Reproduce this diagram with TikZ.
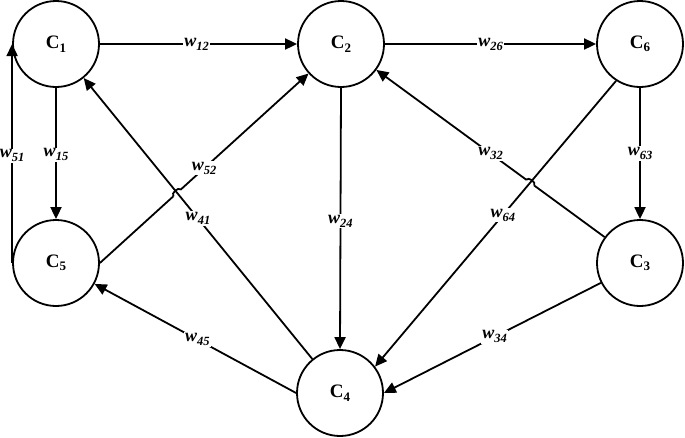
\documentclass[tikz,border=0pt]{standalone}
\usepackage{fontspec}
\setmainfont{Liberation Serif}
\usetikzlibrary{arrows.meta,intersections,calc}
\newcommand{\wlab}[1]{{\fontsize{18}{20}\selectfont\bfseries\itshape w\raisebox{-4pt}{\fontsize{12.5}{14}\selectfont #1}}}
\newcommand{\clab}[1]{{\fontsize{19}{20}\selectfont\bfseries C\raisebox{-3.5pt}{\fontsize{13}{14}\selectfont #1}}}
\begin{document}
\begin{tikzpicture}[x=1pt,y=1pt,
  cnode/.style={circle,draw,line width=1.8pt,minimum size=86pt,inner sep=0pt},
  conn/.style={line width=1.8pt,-{Triangle[length=12pt,width=11pt]}},
  plain/.style={line width=1.8pt},
  lbl/.style={fill=white,inner sep=1pt}]
\useasboundingbox (0,0) rectangle (685,-437);

\node[cnode] (C1) at (56,-44) {\clab{1}};
\node[cnode] (C2) at (341,-44) {\clab{2}};
\node[cnode] (C6) at (640,-44) {\clab{6}};
\node[cnode] (C5) at (56,-263) {\clab{5}};
\node[cnode] (C3) at (640,-263) {\clab{3}};
\node[cnode] (C4) at (340,-393) {\clab{4}};

% straight connectors
\draw[conn] (C1.east) -- node[lbl,pos=0.49]{\wlab{12}} (C2.west);
\draw[conn] (C2.east) -- node[lbl]{\wlab{26}} (C6.west);
\draw[conn] (C5.west) -- node[lbl,pos=0.49]{\wlab{51}} (C1.west);
\draw[conn] (C1.south) -- node[lbl,pos=0.51]{\wlab{15}} (C5.north);
\draw[conn] (C6.south) -- node[lbl,pos=0.5]{\wlab{63}} (C3.north);
\draw[conn] (C2.south) -- node[lbl,pos=0.51]{\wlab{24}} (C4.north);
\draw[conn] (C4.west) -- node[lbl,pos=0.49]{\wlab{45}} (C5);
\draw[conn] (C3) -- node[lbl,pos=0.49]{\wlab{34}} (C4.east);

% crossing paths
\path[name path=p41] (C4) -- (C1);
\path[name path=p52] (C5.east) -- (C2);
\path[name intersections={of=p41 and p52,by=X1}];
\path[name path=p64] (C6.-123) -- (C4.37);
\path[name path=p32] (C3) -- (C2);
\path[name intersections={of=p64 and p32,by=X2}];

% lines that hop
\draw[conn] (C5.east) -- node[lbl,pos=0.5]{\wlab{52}} (C2);
\fill[white] (X1) circle (5pt);
\draw[plain] ($(X1)!5pt!(C5.east)$) to[bend left=90] ($(X1)!5pt!(C2)$);

\draw[conn] (C3) -- node[lbl,pos=0.5]{\wlab{32}} (C2);
\fill[white] (X2) circle (5pt);
\draw[plain] ($(X2)!5pt!(C3)$) to[bend right=90] ($(X2)!5pt!(C2)$);

% continuous lines over the crossings
\draw[conn] (C4) -- node[lbl,pos=0.5]{\wlab{41}} (C1);
\draw[conn] (C6.-123) -- node[lbl,pos=0.47]{\wlab{64}} (C4.37);
\end{tikzpicture}
\end{document}
